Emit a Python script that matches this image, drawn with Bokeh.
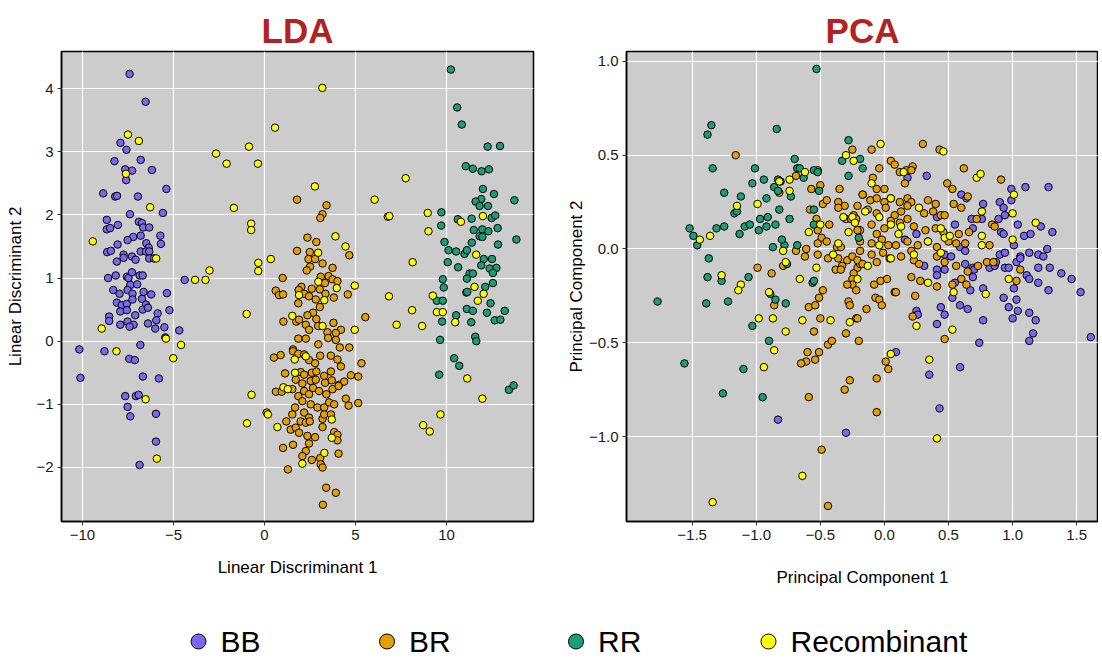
from bokeh.plotting import figure
from bokeh.layouts import column, row
from bokeh.models import FixedTicker, CustomJSTickFormatter, Range1d
from bokeh.embed import file_html
from bokeh.resources import INLINE
from bokeh.core.properties import value

CLASSES = ["BB", "BR", "RR", "Recombinant"]
COLORS = ["#7B68EE", "#E69F00", "#1B9E77", "#FFFF00"]

# ---------------- LDA scores (LD1, LD2) ----------------
lda_bb = [(-7.41,4.23),(-6.53,3.79),(-7.91,3.14),(-7.58,3.03),(-8.24,2.85),(-6.80,2.87),(-7.65,2.72),(-7.27,2.70),
(-7.60,2.55),(-6.18,2.71),(-8.86,2.34),(-8.20,2.29),(-8.10,2.30),(-6.95,2.29),(-5.39,2.41),(-7.39,2.01),(-5.58,2.03),
(-8.66,1.92),(-8.66,1.77),(-8.48,1.79),(-8.05,1.84),(-6.90,1.89),(-6.73,1.87),(-6.66,1.80),(-6.33,1.80),(-5.72,1.67),
(-5.69,1.54),(-7.21,1.65),(-6.80,1.67),(-7.52,1.60),(-8.07,1.53),(-6.49,1.55),(-6.36,1.48),(-8.64,1.41),(-8.44,1.43),
(-7.74,1.37),(-7.74,1.32),(-6.80,1.42),(-6.51,1.42),(-6.33,1.42),(-7.28,1.34),(-7.08,1.29),(-6.33,1.31),(-6.07,1.31),
(-8.11,1.26),(-4.38,0.97),(-8.59,1.00),(-8.17,1.04),(-7.56,1.02),(-7.47,1.00),(-7.28,1.09),(-6.86,1.04),(-6.69,1.04),
(-7.37,0.89),(-6.99,0.90),(-8.31,0.81),(-7.96,0.75),(-7.52,0.81),(-7.25,0.75),(-6.64,0.78),(-6.22,0.74),(-5.36,0.76),
(-8.11,0.61),(-7.84,0.57),(-7.56,0.59),(-7.25,0.66),(-6.73,0.67),(-6.51,0.58),(-7.92,0.47),(-7.56,0.49),(-7.10,0.41),
(-6.69,0.50),(-6.40,0.53),(-5.87,0.44),(-5.22,0.49),(-8.53,0.39),(-8.53,0.32),(-7.92,0.26),(-7.52,0.31),(-7.19,0.26),
(-7.41,0.23),(-6.40,0.28),(-5.94,0.33),(-6.00,0.20),(-5.50,0.22),(-4.68,0.17),(-5.45,0.06),(-6.82,-0.06),(-10.17,-0.13),
(-8.79,-0.16),(-7.43,-0.28),(-7.12,-0.30),(-10.11,-0.58),(-6.68,-0.56),(-5.80,-0.59),(-7.65,-0.87),(-7.06,-0.87),
(-6.91,-0.85),(-7.52,-1.04),(-7.37,-1.19),(-5.96,-1.15),(-5.96,-1.59),(-6.86,-1.96)]

lda_br = [(1.79,2.24),(3.41,2.15),(3.19,2.01),(3.07,1.95),(2.36,1.64),(2.85,1.57),(4.66,1.36),(1.79,1.43),(2.49,1.41),
(2.42,1.30),(2.78,1.30),(2.51,1.18),(2.32,1.12),(3.19,1.23),(3.74,1.16),(1.00,1.00),(3.09,1.02),(3.52,1.03),(3.74,0.98),
(4.01,0.95),(3.32,0.92),(2.03,0.86),(2.60,0.83),(3.04,0.82),(3.35,0.75),(3.81,0.69),(4.58,0.74),(0.62,0.80),(0.80,0.73),
(1.02,0.74),(1.88,0.81),(2.18,0.75),(2.45,0.71),(1.86,0.60),(2.82,0.66),(3.04,0.54),(2.67,0.45),(2.36,0.41),(2.85,0.35),
(1.04,0.31),(1.75,0.31),(1.90,0.34),(5.54,0.38),(2.27,0.26),(2.45,0.18),(2.95,0.24),(3.46,0.14),(3.79,0.29),(4.20,0.18),
(3.92,0.13),(1.86,0.04),(2.27,0.04),(2.96,-0.05),(3.50,0.05),(3.92,0.02),(4.14,-0.10),(4.66,-0.10),(1.57,-0.13),
(0.52,-0.26),(0.89,-0.22),(1.57,-0.16),(1.86,-0.20),(2.18,-0.21),(2.45,-0.30),(2.78,-0.35),(3.06,-0.23),(3.65,-0.23),
(4.01,-0.29),(4.20,-0.40),(5.33,-0.35),(1.13,-0.51),(1.99,-0.49),(2.18,-0.53),(2.60,-0.50),(2.85,-0.48),(3.28,-0.55),
(3.65,-0.48),(4.75,-0.54),(5.15,-0.56),(1.72,-0.61),(2.08,-0.67),(2.54,-0.63),(2.82,-0.61),(3.33,-0.66),(3.70,-0.62),
(4.10,-0.69),(4.38,-0.64),(0.63,-0.80),(0.95,-0.80),(1.53,-0.76),(1.86,-0.87),(2.18,-0.79),(2.45,-0.84),(2.67,-0.74),
(3.00,-0.79),(3.40,-0.84),(3.74,-0.76),(4.07,-0.71),(4.47,-0.91),(4.62,-1.02),(5.15,-0.98),(2.08,-0.95),(2.54,-1.00),
(2.91,-1.05),(3.28,-1.05),(3.55,-0.97),(3.83,-1.00),(1.53,-1.16),(1.68,-1.05),(2.18,-1.13),(2.45,-1.21),(3.19,-1.23),
(3.28,-1.16),(3.65,-1.16),(0.12,-1.13),(1.20,-1.27),(1.44,-1.40),(1.72,-1.37),(1.99,-1.27),(2.27,-1.29),(2.49,-1.27),
(1.90,-1.45),(2.36,-1.50),(2.78,-1.52),(3.19,-1.36),(3.83,-1.44),(4.01,-1.48),(4.01,-1.57),(2.45,-1.62),(2.27,-1.74),
(2.08,-1.82),(1.57,-1.64),(1.02,-1.69),(4.07,-1.78),(3.06,-1.85),(2.60,-1.88),(3.09,-1.95),(3.19,-2.00),(1.29,-2.03),
(3.39,-2.32),(3.92,-2.40),(3.21,-2.59)]

lda_rr = [(10.24,4.30),(10.59,3.70),(10.84,3.43),(12.26,3.08),(12.94,3.09),(11.06,2.77),(11.45,2.73),(11.93,2.69),
(12.33,2.72),(12.00,2.41),(12.61,2.33),(13.73,2.23),(11.91,2.25),(11.60,2.21),(11.82,2.14),(12.28,2.14),(9.72,2.04),
(12.48,1.95),(12.68,1.99),(10.62,1.93),(11.38,1.94),(9.71,1.83),(11.50,1.76),(11.97,1.77),(12.30,1.74),(12.81,1.79),
(11.82,1.66),(11.97,1.65),(13.84,1.61),(12.83,1.53),(11.39,1.56),(9.89,1.57),(10.11,1.44),(10.53,1.42),(10.99,1.38),
(11.12,1.44),(12.05,1.30),(12.50,1.30),(12.74,1.16),(12.37,1.15),(12.55,1.08),(11.91,1.20),(10.07,1.25),(10.64,1.17),
(11.27,1.07),(11.45,1.07),(11.12,0.99),(9.80,0.98),(9.85,0.85),(12.55,0.92),(12.13,0.86),(11.09,0.77),(11.14,0.78),
(9.47,0.64),(9.80,0.64),(12.42,0.60),(11.12,0.51),(11.45,0.48),(12.22,0.45),(13.20,0.48),(12.65,0.33),(12.96,0.34),
(10.53,0.41),(11.36,0.30),(9.76,0.31),(9.65,0.02),(11.58,0.07),(11.64,0.00),(10.42,-0.27),(10.70,-0.39),(9.60,-0.53),
(13.43,-0.77),(13.69,-0.70)]

lda_rec = [(-7.50,3.27),(-6.90,3.17),(-2.66,2.97),(-0.85,3.08),(-2.08,2.81),(-0.36,2.81),(-7.61,2.65),(-6.28,2.12),
(-1.68,2.11),(-0.73,1.86),(-0.73,1.76),(-9.43,1.58),(-5.95,1.31),(-3.02,1.12),(-3.81,0.97),(-3.24,0.97),(-0.34,1.24),
(-0.34,1.11),(-8.94,0.20),(-0.98,0.43),(-5.41,0.04),(-4.58,-0.06),(-8.13,-0.16),(-5.01,-0.27),(-0.71,-0.85),
(-6.53,-0.92),(-0.96,-1.30),(-5.91,-1.86),(3.18,4.01),(0.58,3.38),(2.77,2.45),(6.05,2.24),(6.78,1.97),(3.90,1.66),
(4.45,1.50),(2.95,1.40),(0.35,1.30),(2.96,0.94),(4.96,0.88),(3.97,0.84),(1.90,0.73),(3.29,0.65),(6.84,0.71),(1.53,0.40),
(3.19,0.24),(4.96,0.18),(1.66,-0.29),(2.27,-0.24),(1.68,-0.50),(1.04,-0.73),(1.28,-0.76),(0.19,-1.16),(3.70,-1.24),
(0.71,-1.36),(3.70,-1.53),(3.29,-1.77),(2.08,-1.94),(7.76,2.58),(6.86,1.98),(8.97,2.03),(12.00,1.98),(10.79,1.89),
(9.01,1.74),(11.63,1.37),(8.14,1.25),(9.25,0.72),(11.54,0.86),(12.04,0.75),(11.72,0.64),(8.11,0.49),(9.47,0.46),
(9.80,0.46),(10.48,0.30),(7.26,0.26),(8.66,0.24),(11.14,-0.59),(11.97,-0.91),(9.67,-1.16),(8.72,-1.33),(9.08,-1.43)]

# ---------------- PCA scores (PC1, PC2) ----------------
pca_bb = [(0.18,0.38),(0.33,0.39),(0.99,0.32),(1.10,0.33),(1.28,0.33),(0.60,0.29),(0.64,0.27),(0.77,0.24),(0.90,0.25),
(0.93,0.22),(0.99,0.26),(0.41,0.17),(0.55,0.13),(0.68,0.16),(0.76,0.16),(0.89,0.16),(0.94,0.18),(0.69,0.11),(0.91,0.09),
(0.93,0.08),(1.04,0.13),(1.09,0.07),(1.14,0.08),(1.22,0.12),(1.31,0.09),(0.16,0.05),(0.25,0.08),(0.47,-0.03),
(0.52,-0.04),(0.59,0.01),(0.63,-0.01),(0.90,-0.03),(0.94,-0.02),(1.01,0.02),(1.06,-0.04),(1.13,-0.02),(1.20,-0.03),
(1.24,-0.04),(1.27,0.00),(0.31,-0.09),(0.41,-0.11),(0.41,-0.14),(0.47,-0.11),(0.63,-0.08),(0.69,-0.10),(0.70,-0.11),
(0.69,-0.15),(0.82,-0.10),(0.86,-0.09),(0.87,-0.07),(0.94,-0.10),(0.97,-0.10),(1.03,-0.07),(1.06,-0.05),(1.11,-0.14),
(1.13,-0.16),(1.20,-0.10),(1.20,-0.18),(1.29,-0.10),(1.38,-0.13),(1.46,-0.16),(1.53,-0.23),(0.55,-0.18),(0.67,-0.22),
(0.77,-0.21),(1.01,-0.21),(1.28,-0.22),(-0.83,-0.91),(-0.30,-0.98),(0.25,-0.33),(0.26,-0.35),(0.44,-0.31),(0.47,-0.35),
(0.41,-0.40),(0.53,-0.26),(0.59,-0.30),(0.65,-0.32),(0.77,-0.38),(0.93,-0.26),(0.97,-0.31),(1.03,-0.27),(1.04,-0.33),
(1.00,-0.37),(1.13,-0.34),(1.18,-0.38),(1.16,-0.45),(1.13,-0.49),(1.61,-0.47),(0.74,-0.50),(0.59,-0.63),(0.35,-0.67),
(0.43,-0.85),(0.09,-0.55)]

pca_br = [(-1.16,0.50),(-0.69,0.39),(-0.52,0.42),(-0.82,0.30),(-0.79,-0.09),(-0.88,-0.13),(-0.99,-0.10),(-0.69,-0.01),
(-0.62,-0.04),(-0.61,0.00),(-0.48,-0.22),(-0.57,0.32),(-0.50,0.34),(-0.58,0.21),(-0.53,0.16),(-0.52,0.13),(-0.48,0.24),
(-0.45,0.26),(-0.35,0.32),(-0.36,0.25),(-0.31,0.23),(-0.36,0.22),(-0.43,0.13),(-0.52,0.10),(-0.49,0.06),(-0.45,0.04),
(-0.52,0.03),(-0.52,-0.03),(-0.44,-0.05),(-0.37,0.01),(-0.34,0.01),(-0.36,-0.05),(-0.33,-0.09),(-0.38,-0.11),
(-0.34,-0.11),(-0.29,-0.06),(-0.25,-0.04),(-0.19,-0.01),(-0.21,-0.10),(-0.24,-0.13),(-0.25,-0.16),(-0.19,-0.08),
(-0.25,-0.19),(-0.22,-0.22),(-0.29,-0.19),(-0.25,0.53),(-0.17,0.29),(-0.21,0.23),(-0.24,0.18),(-0.30,0.16),(-0.26,0.16),
(-0.22,0.16),(-0.19,0.10),(-0.19,0.04),(-0.10,0.53),(0.30,0.56),(0.43,0.53),(0.05,0.47),(0.08,0.45),(-0.04,0.43),
(0.12,0.41),(0.17,0.42),(0.22,0.44),(0.21,0.42),(0.16,0.35),(-0.09,0.38),(-0.06,0.32),(0.00,0.32),(0.62,0.43),(0.91,0.37),
(0.49,0.35),(0.53,0.32),(0.65,0.28),(-0.17,0.29),(-0.11,0.26),(-0.06,0.27),(0.00,0.25),(0.05,0.27),(0.12,0.25),(0.18,0.27),
(0.21,0.25),(0.34,0.26),(0.40,0.24),(0.54,0.24),(0.60,0.22),(-0.13,0.21),(-0.06,0.19),(0.01,0.22),(0.08,0.18),(0.13,0.20),
(0.18,0.23),(0.31,0.19),(0.38,0.20),(0.44,0.18),(0.47,0.18),(0.72,0.16),(0.84,0.13),(0.86,0.12),(-0.21,0.10),(-0.10,0.13),
(-0.06,0.08),(0.00,0.11),(0.05,0.15),(0.12,0.14),(0.18,0.16),(0.23,0.12),(0.32,0.10),(0.40,0.11),(0.46,0.09),(-0.10,0.03),
(-0.02,0.05),(0.03,0.02),(0.09,0.02),(0.18,0.04),(0.26,0.02),(0.34,0.04),(0.41,0.01),(0.50,0.04),(0.56,0.03),(0.58,0.08),
(0.63,0.03),(0.66,0.09),(0.82,0.02),(-0.21,-0.06),(-0.17,-0.08),(-0.10,-0.03),(-0.06,-0.07),(-0.01,-0.02),(0.04,-0.05),
(0.13,-0.04),(0.21,-0.01),(0.23,-0.06),(0.27,-0.08),(0.41,-0.04),(0.47,-0.07),(0.56,-0.09),(0.65,-0.12),(0.73,-0.09),
(0.80,-0.07),(0.85,-0.07),(-0.08,-0.19),(-0.03,-0.17),(0.02,-0.16),(0.08,-0.23),(0.21,-0.15),(0.28,-0.17),(0.41,-0.20),
(0.53,-0.19),(0.60,-0.16),(0.64,-0.19),(1.06,-0.11),(1.03,-0.17),(-0.86,-0.30),(-0.59,-0.31),(-0.54,-0.30),(-0.51,-0.26),
(-0.50,-0.37),(-0.55,-0.44),(-0.28,-0.28),(-0.27,-0.30),(-0.22,-0.37),(-0.30,-0.45),(-0.20,-0.49),(-0.60,-0.55),
(-0.61,-0.60),(-0.65,-0.61),(-0.54,-0.59),(-0.51,-0.55),(-0.44,-0.51),(-0.41,-0.49),(-0.27,-0.70),(-0.31,-0.75),
(-0.59,-0.79),(-0.49,-1.07),(-0.44,-1.37),(-0.07,-0.26),(-0.04,-0.27),(-0.02,-0.30),(-0.14,-0.32),(0.09,-0.23),
(0.24,-0.25),(0.22,-0.36),(-0.21,-0.37),(0.47,-0.48),(0.01,-0.60),(0.03,-0.64),(-0.06,-0.69),(-0.06,-0.87)]

pca_rr = [(-0.53,0.96),(-1.35,0.66),(-1.38,0.61),(-0.84,0.64),(-1.34,0.43),(-1.01,0.43),(-0.70,0.48),(-0.68,0.43),
(-0.66,0.43),(-1.03,0.35),(-0.94,0.37),(-0.83,0.37),(-0.81,0.36),(-0.63,0.38),(-0.55,0.42),(-0.52,0.41),(-1.25,0.30),
(-1.12,0.28),(-1.17,0.19),(-1.15,0.20),(-0.86,0.33),(-0.83,0.31),(-0.92,0.27),(-0.73,0.28),(-0.82,0.21),(-0.97,0.16),
(-0.91,0.17),(-0.74,0.16),(-0.85,0.13),(-1.25,0.12),(-1.31,0.11),(-1.13,0.08),(-1.09,0.12),(-1.05,0.13),(-0.98,0.10),
(-0.92,0.12),(-1.52,0.11),(-1.49,0.07),(-1.46,0.02),(-1.37,-0.05),(-1.38,-0.15),(-1.27,-0.17),(-1.06,-0.15),(-0.87,0.01),
(-0.78,0.02),(-0.80,0.05),(-0.68,0.02),(-0.76,-0.08),(-0.56,-0.18),(-0.55,-0.17),(-0.28,0.58),(-0.33,0.47),(-0.28,0.39),
(-0.19,0.48),(-0.17,0.43),(-0.55,0.21),(-0.55,0.13),(-0.51,0.31),(-0.20,0.06),(-1.77,-0.28),(-1.39,-0.29),(-1.22,-0.28),
(-0.89,-0.24),(-0.85,-0.27),(-0.77,-0.29),(-1.03,-0.41),(-0.90,-0.49),(-1.56,-0.61),(-1.10,-0.64),(-1.26,-0.77),
(-0.95,-0.79)]

pca_rec = [(-0.74,0.37),(-0.62,0.41),(-1.15,0.23),(-0.74,0.31),(-0.82,0.36),(-0.99,0.24),(-1.44,0.05),(-1.36,0.07),
(-1.27,-0.14),(-1.12,-0.19),(-1.14,-0.22),(-0.79,-0.01),(-0.77,-0.07),(-0.66,-0.16),(-0.90,-0.23),(-0.30,0.50),
(-0.24,0.47),(-0.32,0.17),(-0.25,0.17),(-0.23,0.14),(-0.28,0.09),(-0.36,0.03),(-0.40,-0.03),(-0.50,0.13),(-0.59,0.09),
(-0.53,-0.10),(-0.21,-0.16),(-0.03,0.56),(0.46,0.52),(0.15,0.41),(-0.10,0.35),(0.72,0.38),(0.75,0.40),(1.01,0.29),
(0.05,0.27),(0.27,0.22),(0.76,0.20),(1.00,0.19),(-0.04,0.17),(-0.15,0.20),(1.18,0.14),(0.76,0.07),(1.00,0.05),(0.76,0.02),
(0.05,0.13),(0.13,0.12),(0.11,0.08),(0.44,0.11),(0.47,0.06),(0.51,0.07),(-0.04,0.02),(0.34,0.04),(0.44,-0.02),(0.23,-0.03),
(-0.13,-0.09),(0.05,-0.05),(0.97,-0.16),(0.34,-0.18),(0.54,-0.23),(0.79,-0.24),(-0.98,-0.37),(-0.87,-0.37),(-0.77,-0.44),
(-0.64,-0.38),(-0.42,-0.38),(-0.27,-0.39),(-0.86,-0.54),(-0.94,-0.63),(-0.64,-1.21),(-1.34,-1.35),(0.25,-0.41),
(0.53,-0.43),(0.05,-0.56),(0.35,-0.59),(0.41,-1.01)]

lda_x_ticks = [-10, -5, 0, 5, 10]
lda_y_ticks = [-2, -1, 0, 1, 2, 3, 4]
pca_x_ticks = [-1.5, -1.0, -0.5, 0.0, 0.5, 1.0, 1.5]
pca_y_ticks = [-1.0, -0.5, 0.0, 0.5, 1.0]

FONT = "Liberation Sans"


def fmt(decimals):
    return CustomJSTickFormatter(code="""
        const s = Math.abs(tick).toFixed(%d);
        return (tick < -1e-9 ? "\\u2212" : "") + s;
    """ % decimals)


def panel(title, xr, yr, xt, yt, dec, xlab, ylab, groups, width, bl, br, ylab_standoff, xlab_standoff):
    p = figure(width=width, height=593, x_range=Range1d(*xr), y_range=Range1d(*yr),
               output_backend="svg", toolbar_location=None,
               min_border_left=bl, min_border_right=br, min_border_top=51, min_border_bottom=72,
               background_fill_color="#CCCCCC", border_fill_color="white")
    p.title.text = title
    p.title.align = "center"
    p.title.text_font = FONT
    p.title.text_font_size = "35px"
    p.title.text_font_style = "bold"
    p.title.text_color = "#B22222"
    p.title.standoff = 4
    p.outline_line_color = "black"
    p.outline_line_width = 1.5
    p.xgrid.grid_line_color = "white"
    p.ygrid.grid_line_color = "white"
    p.xgrid.grid_line_width = 1.2
    p.ygrid.grid_line_width = 1.2
    p.xaxis.ticker = FixedTicker(ticks=xt)
    p.yaxis.ticker = FixedTicker(ticks=yt)
    p.xaxis.formatter = fmt(dec)
    p.yaxis.formatter = fmt(dec)
    for ax in (p.xaxis, p.yaxis):
        ax.axis_line_color = "black"
        ax.axis_line_width = 1.5
        ax.major_tick_out = 4
        ax.major_tick_in = 0
        ax.major_tick_line_color = "#333333"
        ax.minor_tick_line_color = None
        ax.major_label_text_font = FONT
        ax.major_label_text_font_size = "15px"
        ax.major_label_text_color = "#1a1a1a"
        ax.major_label_standoff = 4
        ax.axis_label_text_font = FONT
        ax.axis_label_text_font_size = "17px"
        ax.axis_label_text_font_style = "normal"
        ax.axis_label_text_color = "black"
    p.xaxis.axis_label = xlab
    p.yaxis.axis_label = ylab
    p.xaxis.axis_label_standoff = xlab_standoff
    p.yaxis.axis_label_standoff = ylab_standoff
    for pts, col in zip(groups, COLORS):
        xs = [a for a, b in pts]
        ys = [b for a, b in pts]
        p.scatter(xs, ys, size=7.5, fill_color=col, line_color="black", line_width=1)
    return p


p1 = panel("LDA", (-11.15, 14.78), (-2.855, 4.586), lda_x_ticks, lda_y_ticks, 0,
           "Linear Discriminant 1", "Linear Discriminant 2",
           [lda_bb, lda_br, lda_rr, lda_rec], 563, 61, 30, 8, 15)
p2 = panel("PCA", (-2.012, 1.67), (-1.453, 1.053), pca_x_ticks, pca_y_ticks, 1,
           "Principal Component 1", "Principal Component 2",
           [pca_bb, pca_br, pca_rr, pca_rec], 535, 62, 0, 0, 25)

# ---------------- shared legend ----------------
leg_x = [198, 386.5, 575.5, 768]
leg = figure(width=1098, height=67, x_range=Range1d(0, 1098), y_range=Range1d(0, 67),
             output_backend="svg", toolbar_location=None, min_border=0,
             x_axis_location=None, y_axis_location=None, border_fill_color="white",
             background_fill_color="white")
leg.grid.visible = False
leg.outline_line_color = None
leg.scatter(leg_x, [19] * 4, size=15, fill_color=COLORS, line_color="black", line_width=1)
leg.text([x + 22 for x in leg_x], [19] * 4, text=CLASSES, text_baseline="middle", text_align="left",
         text_font=value(FONT), text_font_size="30px", text_color="black")

layout = column(row(p1, p2), leg)
open("out.html", "w").write(file_html(layout, INLINE))
